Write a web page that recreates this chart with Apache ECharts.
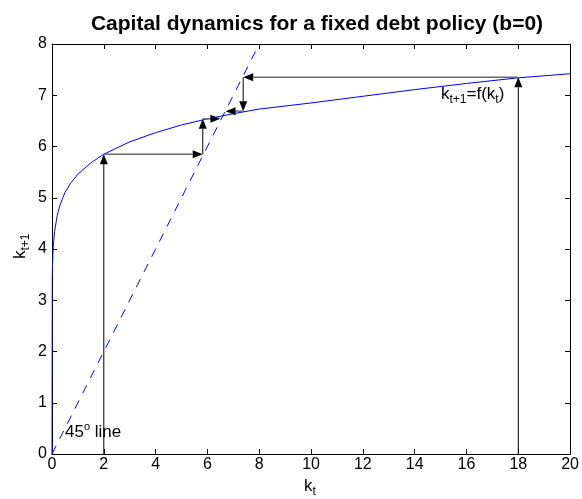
<!DOCTYPE html>
<html>
<head>
<meta charset="utf-8">
<script src="https://cdn.jsdelivr.net/npm/echarts@6/dist/echarts.min.js"></script>
<style>
  html, body { margin: 0; padding: 0; background: #fff; }
  #main { width: 582px; height: 499px; }
</style>
</head>
<body>
<div id="main"></div>
<script>
// capital stock k_t and next period k_{t+1}=f(k_t)
var kValues = [0, 0.01, 0.02, 0.05, 0.1, 0.2, 0.3, 0.4, 0.5, 0.7, 1, 1.5, 2, 3, 4, 5, 6, 7, 8, 10, 12, 14, 16, 18, 20];
var fValues = [0, 3.45, 3.7, 4.05, 4.34, 4.65, 4.84, 4.98, 5.1, 5.27, 5.46, 5.68, 5.85, 6.09, 6.27, 6.42, 6.54, 6.64, 6.73, 6.85, 6.98, 7.11, 7.23, 7.34, 7.42];

// 45 degree line
var lineX = [0, 8];
var lineY = [0, 8];

// cobweb arrows: start point -> end point
var arrowFrom = [[2, 0], [2, 5.85], [5.82, 5.85], [5.82, 6.54], [18, 0], [18, 7.35], [7.38, 7.35], [7.38, 6.69]];
var arrowTo = [[2, 5.85], [5.82, 5.85], [5.82, 6.54], [6.5, 6.54], [18, 7.35], [7.38, 7.35], [7.38, 6.69], [6.7, 6.69]];

var xTicks = { min: 0, max: 20, interval: 2 };
var yTicks = { min: 0, max: 8, interval: 1 };

var FONT = 'Arial, "Liberation Sans", Helvetica, sans-serif';

var curve = kValues.map(function (k, i) { return [k, fValues[i]]; });
var diag = lineX.map(function (x, i) { return [x, lineY[i]]; });
var arrows = arrowFrom.map(function (p, i) {
    return [p[0], p[1], arrowTo[i][0], arrowTo[i][1]];
});

function renderArrow(params, api) {
    var p1 = api.coord([api.value(0), api.value(1)]);
    var p2 = api.coord([api.value(2), api.value(3)]);
    var dx = p2[0] - p1[0], dy = p2[1] - p1[1];
    var len = Math.sqrt(dx * dx + dy * dy);
    var ux = dx / len, uy = dy / len;
    var headL = 10, headW = 4;
    var bx = p2[0] - ux * headL, by = p2[1] - uy * headL;
    // horizontal steps look grey and a bit wider in the original
    var flat = Math.abs(dy) < 0.5;
    return {
        type: 'group',
        children: [{
            type: 'line',
            shape: { x1: p1[0], y1: p1[1], x2: bx, y2: by },
            style: { stroke: flat ? '#6a6a6a' : '#000', lineWidth: flat ? 1.5 : 1 }
        }, {
            type: 'polygon',
            shape: {
                points: [
                    [p2[0], p2[1]],
                    [bx - uy * headW, by + ux * headW],
                    [bx + uy * headW, by - ux * headW]
                ]
            },
            style: { fill: '#000' }
        }]
    };
}

var axisCommon = {
    axisLine: { show: true, onZero: false, lineStyle: { color: '#000', width: 1 } },
    axisTick: { show: true, inside: true, length: 5, lineStyle: { color: '#000' } },
    splitLine: { show: false }
};

var subRich = {
    m: { fontFamily: FONT, fontSize: 17, color: '#000', lineHeight: 20, verticalAlign: 'top' },
    s: { fontFamily: FONT, fontSize: 12, color: '#000', lineHeight: 11, verticalAlign: 'bottom' }
};

var chart = echarts.init(document.getElementById('main'));
var option = {
    animation: false,
    backgroundColor: '#fff',
    title: {
        text: 'Capital dynamics for a fixed debt policy (b=0)',
        left: 312,
        top: 9,
        textAlign: 'center',
        textStyle: { fontFamily: FONT, fontSize: 21, fontWeight: 'bold', color: '#000' }
    },
    grid: { left: 52, right: 11, top: 44, bottom: 45 },
    xAxis: [
        Object.assign({
            type: 'value', min: xTicks.min, max: xTicks.max, interval: xTicks.interval,
            position: 'bottom',
            axisLabel: { color: '#000', fontFamily: FONT, fontSize: 16, margin: 3 }
        }, axisCommon),
        Object.assign({
            type: 'value', min: xTicks.min, max: xTicks.max, interval: xTicks.interval,
            position: 'top',
            axisLabel: { show: false }
        }, axisCommon)
    ],
    yAxis: [
        Object.assign({
            type: 'value', min: yTicks.min, max: yTicks.max, interval: yTicks.interval,
            position: 'left',
            axisLabel: { color: '#000', fontFamily: FONT, fontSize: 16, margin: 5 }
        }, axisCommon),
        Object.assign({
            type: 'value', min: yTicks.min, max: yTicks.max, interval: yTicks.interval,
            position: 'right',
            axisLabel: { show: false }
        }, axisCommon)
    ],
    graphic: [{
        type: 'text',
        left: 304,
        top: 478,
        style: { text: '{m|k}{s|t}', rich: subRich }
    }, {
        type: 'text',
        x: 12,
        y: 259,
        rotation: Math.PI / 2,
        style: { text: '{m|k}{s|t+1}', rich: subRich }
    }, {
        type: 'text',
        left: 441,
        top: 86,
        style: { text: '{m|k}{s|t+1}{m|=f(k}{s|t}{m|)}', rich: subRich }
    }, {
        type: 'text',
        left: 65,
        top: 421,
        style: {
            text: '{m|45}{u|o}{m| line}',
            rich: {
                m: { fontFamily: FONT, fontSize: 17, color: '#000', lineHeight: 20, verticalAlign: 'bottom' },
                u: { fontFamily: FONT, fontSize: 11, color: '#000', lineHeight: 10, verticalAlign: 'top' }
            }
        }
    }],
    series: [{
        name: 'f(k)',
        type: 'line',
        data: curve,
        showSymbol: false,
        smooth: false,
        lineStyle: { color: '#0000ff', width: 1 },
        z: 3
    }, {
        name: '45 line',
        type: 'line',
        data: diag,
        showSymbol: false,
        lineStyle: { color: '#0000ff', width: 1, type: [9, 8] },
        z: 3
    }, {
        name: 'steps',
        type: 'custom',
        renderItem: renderArrow,
        data: arrows,
        encode: { x: [0, 2], y: [1, 3] },
        z: 4
    }]
};
chart.setOption(option);
</script>
</body>
</html>
